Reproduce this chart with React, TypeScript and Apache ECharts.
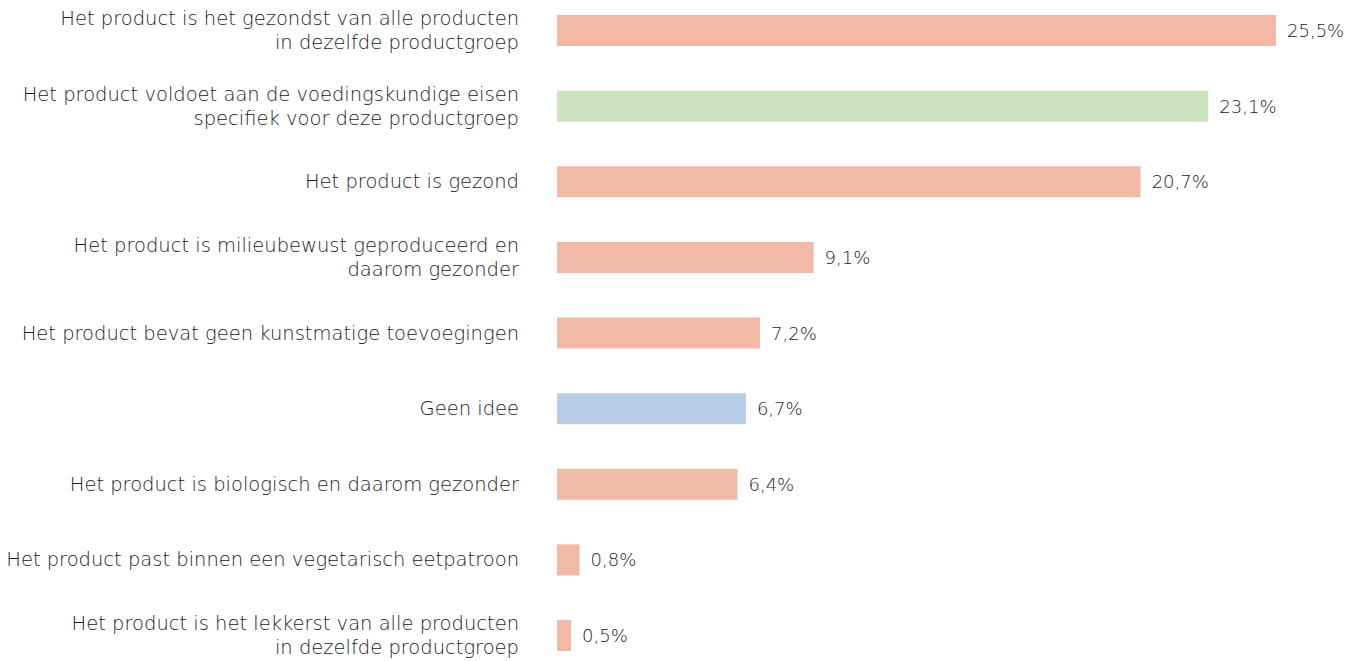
import React, { useEffect, useRef } from "react";
import * as echarts from "echarts";

const categories: string[] = [
  "Het product is het gezondst van alle producten\nin dezelfde productgroep",
  "Het product voldoet aan de voedingskundige eisen\nspecifiek voor deze productgroep",
  "Het product is gezond",
  "Het product is milieubewust geproduceerd en\ndaarom gezonder",
  "Het product bevat geen kunstmatige toevoegingen",
  "Geen idee",
  "Het product is biologisch en daarom gezonder",
  "Het product past binnen een vegetarisch eetpatroon",
  "Het product is het lekkerst van alle producten\nin dezelfde productgroep",
];
const values: number[] = [25.5, 23.1, 20.7, 9.1, 7.2, 6.7, 6.4, 0.8, 0.5];
const barColors: string[] = [
  "#f1b9a6", "#cbe3c1", "#f1b9a6", "#f1b9a6", "#f1b9a6",
  "#b8cce8", "#f1b9a6", "#f1b9a6", "#f1b9a6",
];

const FONT = "'DejaVu Sans', sans-serif";

export default function App() {
  const ref = useRef<HTMLDivElement>(null);
  useEffect(() => {
    document.body.style.margin = "0";
    const chart = echarts.init(ref.current!, null, { renderer: "svg" });
    chart.setOption({
      animation: false,
      grid: { left: 557, right: 83, top: 30.5, bottom: 25.5, containLabel: false },
      xAxis: {
        type: "value",
        min: 0,
        max: "dataMax",
        show: false,
      },
      yAxis: {
        type: "category",
        data: categories,
        inverse: true,
        boundaryGap: false,
        axisLine: { show: false },
        axisTick: { show: false },
        splitLine: { show: false },
        axisLabel: {
          margin: 38,
          fontFamily: FONT,
          fontSize: 19.5,
          fontWeight: 200,
          lineHeight: 24,
          color: "#1a1a1a",
          align: "right",
        },
      },
      series: [
        {
          type: "bar",
          barWidth: 31,
          data: values.map((v, i) => ({ value: v, itemStyle: { color: barColors[i] } })),
          label: {
            show: true,
            position: "right",
            distance: 11,
            fontFamily: FONT,
            fontSize: 18,
            fontWeight: 200,
            color: "#1a1a1a",
            formatter: (p: any) => String(p.value).replace(".", ",") + "%",
          },
        },
      ],
    });
    return () => chart.dispose();
  }, []);
  return <div ref={ref} style={{ width: 1359, height: 661 }} />;
}
